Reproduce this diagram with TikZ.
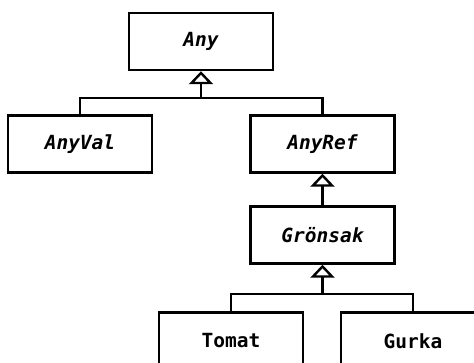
\documentclass[tikz,border=0pt]{standalone}
\usepackage{fontspec}
\newfontfamily\monofont{DejaVu Sans Mono}
\usetikzlibrary{arrows.meta}
\tikzset{
  cls/.style={draw, line width=2.4pt, fill=white, minimum width=144pt, minimum height=57pt, inner sep=0pt, font=\monofont\fontsize{19.5}{22}\selectfont\bfseries},
  abs/.style={cls, font=\monofont\fontsize{19.5}{22}\selectfont\bfseries\itshape},
  link/.style={line width=2.4pt},
  inh/.style={line width=2.4pt, -{Triangle[open, length=13pt, width=24pt, line width=2.4pt]}},
}
\begin{document}
\begin{tikzpicture}[x=1pt, y=-1pt]
\useasboundingbox (0,0) rectangle (474,362);
\clip (0,0) rectangle (474,362);
\node[abs] (any) at (201,41.5) {Any};
\node[abs] (anyval) at (80,144) {AnyVal};
\node[abs] (anyref) at (322.5,144) {AnyRef};
\node[abs] (gron) at (322.5,235) {Grönsak};
\node[cls] (tomat) at (231,341) {Tomat};
\node[cls] (gurka) at (413,341) {Gurka};
\coordinate (j1) at (201,98);
\coordinate (j2) at (322.5,294);
\draw[link] (anyval.north) |- (j1);
\draw[link] (anyref.north) |- (j1);
\draw[inh] (j1) -- (any.south);
\draw[inh] (gron.north) -- (anyref.south);
\draw[link] (tomat.north) |- (j2);
\draw[link] (gurka.north) |- (j2);
\draw[inh] (j2) -- (gron.south);
\end{tikzpicture}
\end{document}
